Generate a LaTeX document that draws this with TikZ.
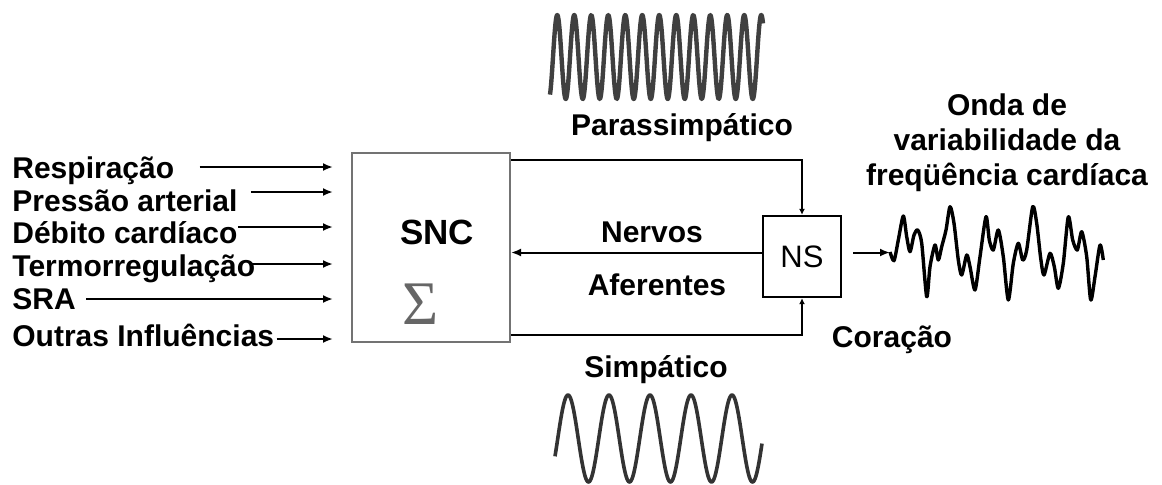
\documentclass[tikz,border=0pt]{standalone}
\usepackage{fontspec}
\setmainfont{Liberation Sans}
\newfontfamily\sigmafont{Liberation Serif}
\usetikzlibrary{arrows.meta,calc,positioning}

\begin{document}
\begin{tikzpicture}[
    x=0.5pt, y=-0.5pt,
    lbl/.style={font=\bfseries\fontsize{15}{17.5}\selectfont, inner sep=0pt,
                text height=10.7pt, text depth=0pt},
    inlbl/.style={lbl, anchor=west},
    title/.style={font=\bfseries\fontsize{15}{17.5}\selectfont, inner sep=0pt, align=center},
    sncbox/.style={rectangle, draw=black!55, line width=1pt, minimum width=79pt,
                   minimum height=94.5pt, inner sep=0pt},
    nsbox/.style={rectangle, draw, line width=1.2pt, minimum width=39pt,
                  minimum height=40.5pt, inner sep=0pt, font=\fontsize{15.5}{17}\selectfont},
    arrow/.style={-{Latex[length=5pt,width=4pt]}, line width=1pt},
    nerve/.style={-{Latex[length=3pt,width=3pt]}, line width=1.2pt},
    wave/.style={line width=1.8pt, black!80, line join=round}
]
\useasboundingbox[fill=white] (0,0) rectangle (1162,484);

%% -- Inputs ------------------------------------------------------
\node[inlbl] (resp)   at (12,168) {Respiração};
\node[inlbl] (pres)   at (12,201) {Pressão arterial};
\node[inlbl] (deb)    at (12,233) {Débito cardíaco};
\node[inlbl] (termo)  at (12,266) {Termorregulação};
\node[inlbl] (sra)    at (12,299) {SRA};
\node[inlbl] (outras) at (12,336) {Outras Influências};

%% -- Central blocks ----------------------------------------------
\node[sncbox] (snc) at (431,247.5) {};
\node[lbl, font=\bfseries\fontsize{17.5}{19}\selectfont, text height=12.5pt]
      (snctxt) at (437,232) {SNC};
\node[text=black!60, font=\sigmafont\fontsize{31}{31}\selectfont, inner sep=0pt]
      (sum) at (421,304) {Σ};

\node[nsbox] (ns) at (802,256.5) {NS};

\coordinate (inend) at (333,0);
\coordinate (hrv)   at (890,252);

%% -- Input arrows ------------------------------------------------
\draw[arrow] ($(resp.east)+(25,-1)$)  coordinate (r0) -- (r0 -| inend);
\draw[arrow] ($(pres.east)+(13,-9)$)  coordinate (r1) -- (r1 -| inend);
\draw[arrow] ($(deb.east)+(0,-6)$)    coordinate (r2) -- (r2 -| inend);
\draw[arrow] ($(termo.east)+(-5,-2)$) coordinate (r3) -- (r3 -| inend);
\draw[arrow] ($(sra.east)+(10,0)$)    coordinate (r4) -- (r4 -| inend);
\draw[arrow] ($(outras.east)+(2,3)$)  coordinate (r5) -- (r5 -| inend);

%% -- Efferent / afferent nerves ----------------------------------
\draw[nerve] ($(snc.north east)+(0,8)$) -| (ns.north);
\draw[nerve] ($(snc.south east)+(0,-8)$) -| (ns.south);
\draw[arrow] ($(ns.west)+(0,-4)$) coordinate (a0) -- (a0 -| snc.east);
\draw[arrow] ($(ns.east)+(11,-4)$) coordinate (h0) -- (h0 -| hrv);

\node[lbl] (nerv) at (652,232) {Nervos};
\node[lbl] (afer) at (657,285) {Aferentes};

%% -- Autonomic branches ------------------------------------------
\node[lbl] (parass) at (682,125) {Parassimpático};
\node[lbl] (simp)   at (656,367) {Simpático};

\draw[wave, line width=2.2pt, black!75]
    plot[domain=550:763, samples=500] (\x, {57-42*sin(21.176*(\x-553))});
\draw[wave]
    plot[domain=555:762, samples=300] (\x, {438.5-43.5*sin(8.780*(\x-557.75))});

%% -- Heart output ------------------------------------------------
\node[title, anchor=north] (onda) at (1007,93)
    {Onda de\\variabilidade da\\freqüência cardíaca};
\node[lbl] (cor) at (892,337) {Coração};

\draw[wave, black, line width=1.7pt] plot[smooth, tension=0.45] coordinates {
    (890,252) (894,260.7) (898.3,240) (903.3,216) (906.7,236.7) (910,251.7)
    (914,235) (917.7,230) (921.7,243.3) (926.7,296.7) (930,266.7) (935,245)
    (938.3,260) (941.7,246.7) (946,230) (950,206.7) (954,223.3) (958.3,260)
    (961.7,275) (966.7,255) (970,266.7) (975,290) (980,256.7) (986,216.7)
    (989.3,240) (993.3,250) (998.3,230) (1003.3,256.7) (1008.3,300)
    (1013.3,263.3) (1018.3,243.3) (1022.7,260) (1026.7,250) (1032.7,206.7)
    (1036.7,223.3) (1040.7,258.3) (1044,275) (1050,253.3) (1054.3,266.7)
    (1058.3,288.3) (1063.3,263.3) (1068.3,216.7) (1072.7,240) (1077.3,250)
    (1081.7,231.7) (1086.7,256.7) (1090.7,300) (1095,276.7) (1100,245)
    (1103.3,260)};
\end{tikzpicture}
\end{document}
